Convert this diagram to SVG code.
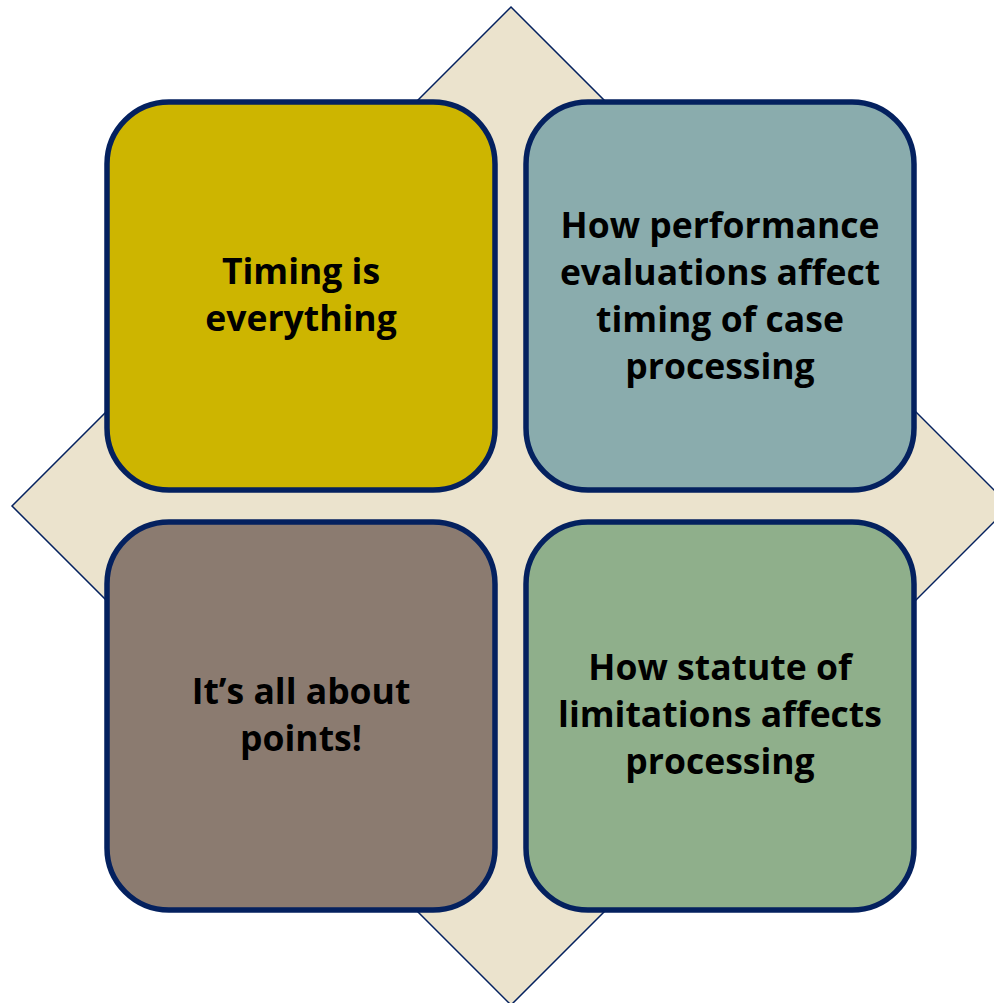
<svg xmlns="http://www.w3.org/2000/svg" width="994" height="1003" viewBox="0 0 994 1003">
  <style>
    .box { stroke: #04215F; stroke-width: 5.5; }
    .label { font-family: "Open Sans", Lato, "Liberation Sans", sans-serif; font-weight: 700; font-size: 35.5px; fill: #000000; text-anchor: middle; }
  </style>
  <rect width="994" height="1003" fill="#FFFFFF"/>
  <!-- background diamond -->
  <g id="diamond">
    <polygon points="511,7 1010,506 511,1005 12,506" fill="#EBE3CD" stroke="#04215F" stroke-width="1.5"/>
  </g>
  <g id="connectors"></g>
  <g id="node-timing">
    <rect class="box" x="107" y="102" width="388" height="388" rx="62" fill="#CDB500"/>
    <text class="label" x="301" y="284">Timing is</text>
    <text class="label" x="301" y="331">everything</text>
  </g>
  <g id="node-performance">
    <rect class="box" x="526" y="102" width="388" height="388" rx="62" fill="#8AACAD"/>
    <text class="label" x="720" y="238">How performance</text>
    <text class="label" x="720" y="285">evaluations affect</text>
    <text class="label" x="720" y="332">timing of case</text>
    <text class="label" x="720" y="379">processing</text>
  </g>
  <g id="node-points">
    <rect class="box" x="107" y="522" width="388" height="388" rx="62" fill="#8B7B70"/>
    <text class="label" x="301" y="704">It’s all about</text>
    <text class="label" x="301" y="751">points!</text>
  </g>
  <g id="node-statute">
    <rect class="box" x="526" y="522" width="388" height="388" rx="62" fill="#8FAF8B"/>
    <text class="label" x="720" y="680">How statute of</text>
    <text class="label" x="720" y="727">limitations affects</text>
    <text class="label" x="720" y="774">processing</text>
  </g>
</svg>
